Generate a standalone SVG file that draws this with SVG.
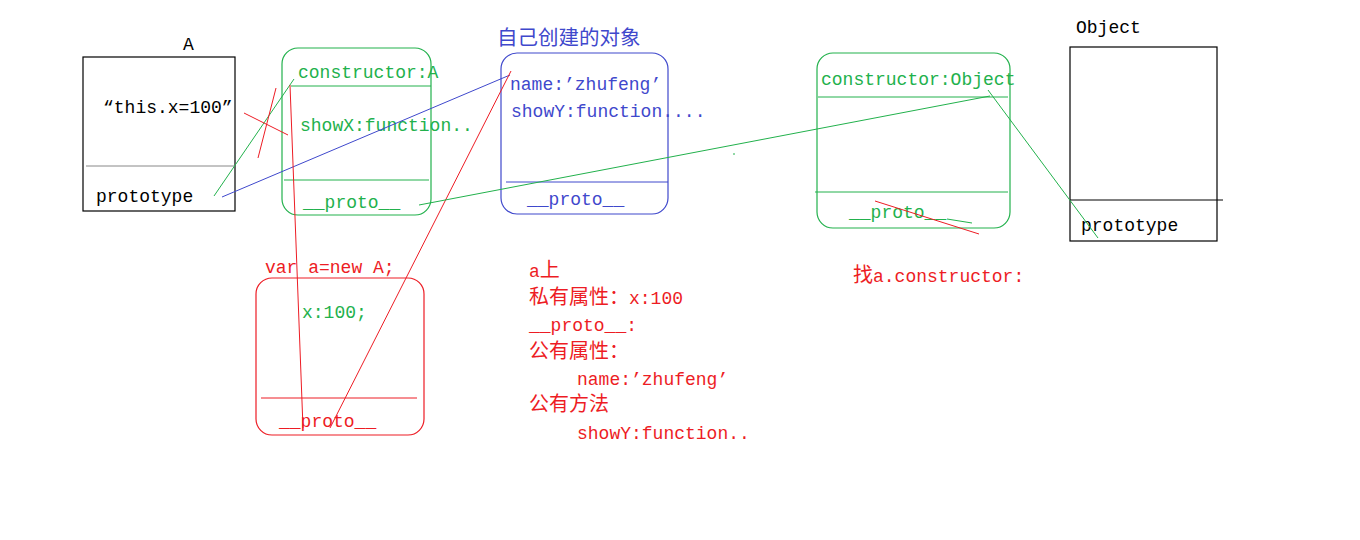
<svg xmlns="http://www.w3.org/2000/svg" width="1360" height="540" viewBox="0 0 1360 540">
<style>
text{font-family:"Liberation Mono","DejaVu Sans Mono","Noto Sans CJK SC",monospace;font-size:18px}
.cjk{font-family:"Noto Sans CJK SC","Noto Sans CJK JP",sans-serif;font-size:20px}
.k{fill:#000}
.g{fill:#22b14c}
.r{fill:#ed1c24}
.b{fill:#3f48cc}
.box{fill:none;stroke-width:1.2}
.ln{fill:none;stroke-width:1}
</style>
<rect width="1360" height="540" fill="#fff"/>

<g id="nodeA">
  <text x="183" y="50" class="k">A</text>
  <rect x="83" y="57" width="152" height="154" class="box" stroke="#000"/>
  <line x1="86" y1="166" x2="235" y2="166" class="ln" stroke="#888"/>
  <text x="103" y="113" class="k">“this.x=100”</text>
  <text x="96" y="202" class="k">prototype</text>
</g>

<g id="nodeAProto">
  <rect x="282" y="48" width="149" height="167" rx="16" class="box" stroke="#22b14c"/>
  <line x1="291" y1="86" x2="431" y2="86" class="ln" stroke="#22b14c"/>
  <line x1="284" y1="180" x2="429" y2="180" class="ln" stroke="#22b14c"/>
  <text x="298" y="78" class="g">constructor:A</text>
  <text x="300" y="131" class="g">showX:function..</text>
  <text x="303" y="208" class="g">__proto__</text>
</g>

<g id="nodeSelf">
  <text x="497" y="45" class="b cjk" style="font-size:20.5px">自己创建的对象</text>
  <rect x="501" y="53" width="167" height="161" rx="16" class="box" stroke="#3f48cc"/>
  <line x1="506" y1="182" x2="668" y2="182" class="ln" stroke="#3f48cc"/>
  <text x="510" y="90" class="b">name:’zhufeng’</text>
  <text x="511" y="117" class="b">showY:function....</text>
  <text x="527" y="205" class="b">__proto__</text>
</g>

<g id="nodeObjProto">
  <rect x="817" y="53" width="193" height="175" rx="16" class="box" stroke="#22b14c"/>
  <line x1="818" y1="97" x2="1008" y2="97" class="ln" stroke="#22b14c"/>
  <line x1="815" y1="192" x2="1008" y2="192" class="ln" stroke="#22b14c"/>
  <text x="821" y="85" class="g">constructor:Object</text>
  <text x="849" y="218" class="g">__proto__</text>
</g>

<g id="nodeObject">
  <text x="1076" y="33" class="k">Object</text>
  <rect x="1070" y="47" width="147" height="194" class="box" stroke="#000"/>
  <line x1="1070" y1="200" x2="1223" y2="200" class="ln" stroke="#000"/>
  <text x="1081" y="231" class="k">prototype</text>
</g>

<g id="nodeInstance">
  <text x="265" y="273" class="r">var a=new A;</text>
  <rect x="256" y="278" width="168" height="157" rx="16" class="box" stroke="#ed1c24"/>
  <line x1="261" y1="398" x2="417" y2="398" class="ln" stroke="#ed1c24"/>
  <text x="302" y="318" class="g">x:100;</text>
  <text x="279" y="427" class="r">__proto__</text>
</g>

<g id="noteA">
  <text x="529" y="277" class="r">a<tspan class="cjk">上</tspan></text>
  <text x="529" y="304" class="r"><tspan class="cjk">私有属性：</tspan>x:100</text>
  <text x="529" y="331" class="r">__proto__:</text>
  <text x="529" y="358" class="r"><tspan class="cjk">公有属性：</tspan></text>
  <text x="577" y="385" class="r">name:’zhufeng’</text>
  <text x="529" y="411" class="r"><tspan class="cjk">公有方法</tspan></text>
  <text x="577" y="439" class="r">showY:function..</text>
</g>

<g id="noteFind">
  <text x="853" y="282" class="r"><tspan class="cjk">找</tspan>a.constructor:</text>
</g>

<g id="connectors">
  <line x1="214" y1="196" x2="294" y2="79" class="ln" stroke="#22b14c"/>
  <line x1="222" y1="197" x2="510" y2="75" class="ln" stroke="#3f48cc"/>
  <line x1="244" y1="113" x2="288" y2="135" class="ln" stroke="#ed1c24"/>
  <line x1="276" y1="88" x2="258" y2="158" class="ln" stroke="#ed1c24"/>
  <line x1="290" y1="85" x2="303" y2="428" class="ln" stroke="#ed1c24"/>
  <line x1="511" y1="71" x2="330" y2="428" class="ln" stroke="#ed1c24"/>
  <line x1="419" y1="205" x2="990" y2="96" class="ln" stroke="#22b14c"/>
  <line x1="733" y1="154" x2="735" y2="154" class="ln" stroke="#22b14c"/>
  <line x1="988" y1="90" x2="1098" y2="238" class="ln" stroke="#22b14c"/>
  <line x1="947" y1="219" x2="972" y2="223" class="ln" stroke="#22b14c"/>
  <line x1="875" y1="201" x2="979" y2="234" class="ln" stroke="#ed1c24"/>
</g>
</svg>
